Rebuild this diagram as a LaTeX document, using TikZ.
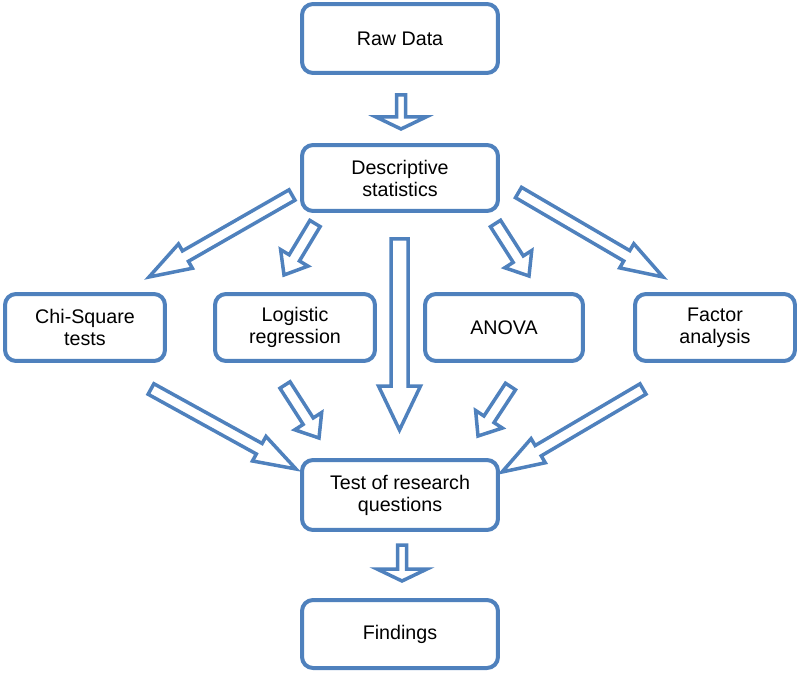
\documentclass[tikz,border=0pt]{standalone}
\usepackage{fontspec}
\setmainfont{Liberation Sans}
\usetikzlibrary{calc}
\definecolor{bblue}{HTML}{4F81BD}
\newcommand\blockarr[5]{%
  \coordinate (hb) at ($(#2)!#5!(#1)$);
  \draw[barrow] ($(#1)!#3!90:(#2)$) -- ($(hb)!#3!-90:(#1)$) -- ($(hb)!#4!-90:(#1)$) -- (#2)
     -- ($(hb)!#4!90:(#1)$) -- ($(hb)!#3!90:(#1)$) -- ($(#1)!#3!-90:(#2)$) -- cycle;}
\tikzset{
  box/.style={draw=bblue, line width=0.08cm, rounded corners=0.22cm, fill=white,
    align=center, inner sep=0pt, minimum width=3.92cm,
    font=\fontsize{11.2}{12.5}\selectfont},
  sbox/.style={box, minimum width=3.2cm, minimum height=1.34cm},
  barrow/.style={draw=bblue, line width=0.07cm, fill=white, line join=miter}
}
\begin{document}
\begin{tikzpicture}[x=0.02cm, y=-0.02cm]
\useasboundingbox (0,0) rectangle (800,675);
% boxes
\node[box, minimum height=1.38cm] (raw) at (400,38.5) {Raw Data};
\node[box, minimum height=1.32cm] (desc) at (400,178) {Descriptive\\statistics};
\node[sbox] (chi) at (85,327.5) {Chi-Square\\tests};
\node[sbox] (log) at (295,327.5) {Logistic\\regression};
\node[sbox, minimum width=3.16cm] (anova) at (504,327.5) {ANOVA};
\node[sbox] (factor) at (715,327.5) {Factor\\analysis};
\node[box, minimum height=1.4cm] (test) at (400,495) {Test of research\\questions};
\node[box, minimum height=1.36cm] (find) at (400,634) {Findings};
% arrow end points
\coordinate (a1s) at (401,95);   \coordinate (a1e) at (401,129);
\coordinate (a2s) at (402,545);  \coordinate (a2e) at (402,581);
\coordinate (a3s) at (399.5,239);\coordinate (a3e) at (399.5,430);
\coordinate (a4s) at (292,195);  \coordinate (a4e) at (149,277);
\coordinate (a5s) at (315,223.5);\coordinate (a5e) at (284,275);
\coordinate (a6s) at (495.5,223.5);\coordinate (a6e) at (529,276);
\coordinate (a7s) at (518.5,192.5);\coordinate (a7e) at (663,277);
\coordinate (a8s) at (151,389);  \coordinate (a8e) at (296,469);
\coordinate (a9s) at (285,385);  \coordinate (a9e) at (319,438);
\coordinate (a10s) at (510.5,386.5);\coordinate (a10e) at (478,436);
\coordinate (a11s) at (643,389); \coordinate (a11e) at (502,472);
% arrows
\blockarr{a1s}{a1e}{0.09cm}{0.5cm}{0.24cm}
\blockarr{a2s}{a2e}{0.09cm}{0.5cm}{0.24cm}
\blockarr{a3s}{a3e}{0.17cm}{0.42cm}{0.88cm}
\blockarr{a4s}{a4e}{0.12cm}{0.28cm}{0.84cm}
\blockarr{a7s}{a7e}{0.12cm}{0.28cm}{0.84cm}
\blockarr{a8s}{a8e}{0.12cm}{0.28cm}{0.84cm}
\blockarr{a11s}{a11e}{0.12cm}{0.28cm}{0.84cm}
\blockarr{a5s}{a5e}{0.12cm}{0.32cm}{0.4cm}
\blockarr{a6s}{a6e}{0.12cm}{0.32cm}{0.4cm}
\blockarr{a9s}{a9e}{0.12cm}{0.32cm}{0.4cm}
\blockarr{a10s}{a10e}{0.12cm}{0.32cm}{0.4cm}
\end{tikzpicture}
\end{document}
